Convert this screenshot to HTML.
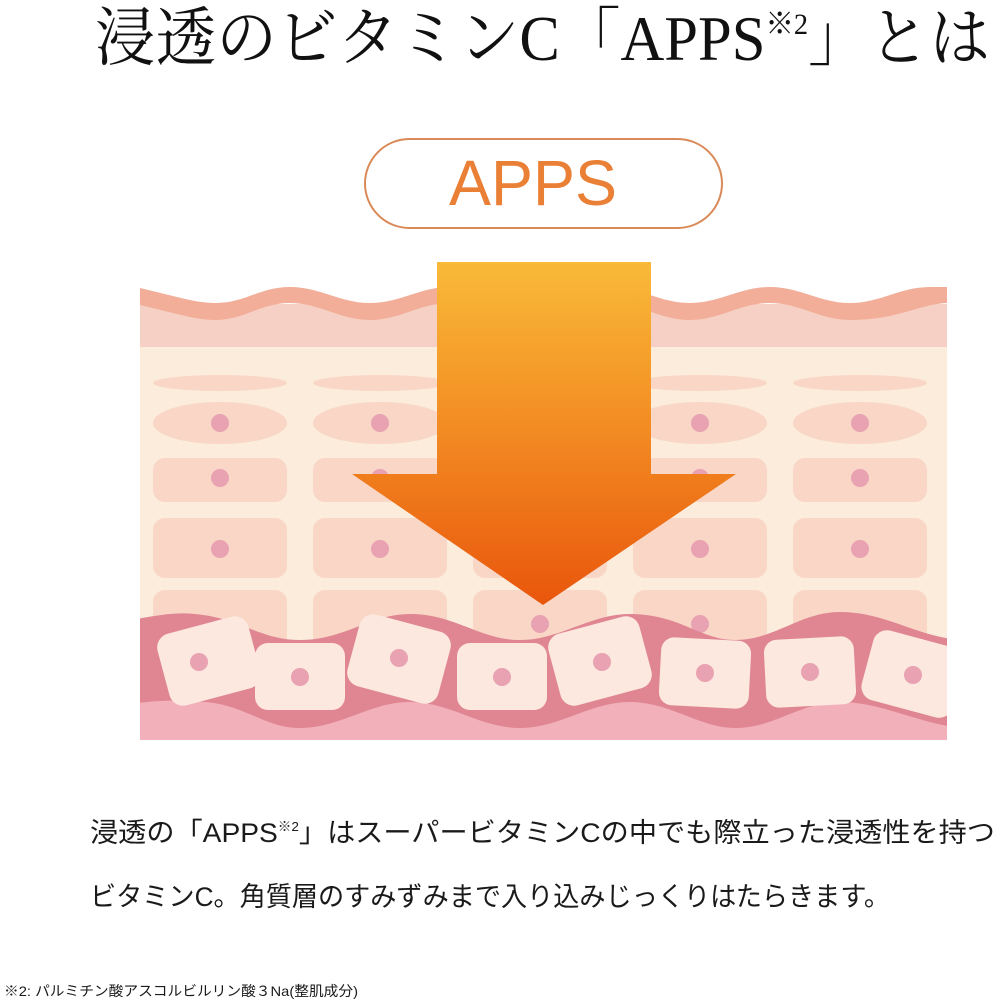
<!DOCTYPE html>
<html><head><meta charset="utf-8"><style>
html,body{margin:0;padding:0;background:#fff;width:1000px;height:1000px;overflow:hidden}
svg{display:block}
</style></head><body>
<svg width="1000" height="1000" viewBox="0 0 1000 1000" xmlns="http://www.w3.org/2000/svg">
<defs>
<linearGradient id="ag" x1="0" y1="0" x2="0" y2="1">
<stop offset="0" stop-color="#f9ba38"/><stop offset="0.5" stop-color="#f28a22"/><stop offset="1" stop-color="#e9560c"/>
</linearGradient>
<clipPath id="dc"><rect x="140" y="250" width="807" height="490"/></clipPath>
</defs>
<text x="95" y="60" font-family="'Liberation Serif','Noto Serif CJK JP',serif" font-size="64" fill="#111" textLength="895" lengthAdjust="spacingAndGlyphs">浸透のビタミンC「APPS<tspan font-size="30" dy="-26">※2</tspan><tspan dy="26">」とは</tspan></text>

<rect x="365" y="139" width="357" height="89" rx="44.5" fill="#fff" stroke="#d98a58" stroke-width="2"/>
<text x="533" y="205" text-anchor="middle" font-family="'Liberation Sans',sans-serif" font-size="64" fill="#ea7f36" textLength="168" lengthAdjust="spacingAndGlyphs">APPS</text>

<g clip-path="url(#dc)">
<rect x="140" y="304" width="807" height="436" fill="#fcecdc"/>
<rect x="140" y="304" width="807" height="43" fill="#f6d0c4"/>
<path d="M140 288 C175 296 195 303 215 303 C245 303 260 287 290 287 C320 287 340 303 370 303 C400 303 420 287 450 287 C480 287 500 303 530 303 C560 303 580 287 610 287 C640 287 660 303 690 303 C720 303 740 287 770 287 C800 287 820 303 850 303 C880 303 900 287 930 287 L950 287 L950 303 C920 303 900 320 850 320 C820 320 800 303 770 303 C740 303 720 320 690 320 C660 320 640 303 610 303 C580 303 560 320 530 320 C500 320 480 303 450 303 C420 303 400 320 370 320 C340 320 320 303 290 303 C260 303 245 320 215 320 C195 320 175 313 140 305 Z" fill="#f2ae98"/>
<g fill="#f9d6c5">
<ellipse cx="220" cy="383" rx="67" ry="8"/><ellipse cx="380" cy="383" rx="67" ry="8"/><ellipse cx="540" cy="383" rx="67" ry="8"/><ellipse cx="700" cy="383" rx="67" ry="8"/><ellipse cx="860" cy="383" rx="67" ry="8"/>
<ellipse cx="220" cy="423" rx="67" ry="21"/><ellipse cx="380" cy="423" rx="67" ry="21"/><ellipse cx="540" cy="423" rx="67" ry="21"/><ellipse cx="700" cy="423" rx="67" ry="21"/><ellipse cx="860" cy="423" rx="67" ry="21"/>
<rect x="153" y="458" width="134" height="44" rx="12"/><rect x="313" y="458" width="134" height="44" rx="12"/><rect x="473" y="458" width="134" height="44" rx="12"/><rect x="633" y="458" width="134" height="44" rx="12"/><rect x="793" y="458" width="134" height="44" rx="12"/>
<rect x="153" y="518" width="134" height="60" rx="12"/><rect x="313" y="518" width="134" height="60" rx="12"/><rect x="473" y="518" width="134" height="60" rx="12"/><rect x="633" y="518" width="134" height="60" rx="12"/><rect x="793" y="518" width="134" height="60" rx="12"/>
<rect x="153" y="590" width="134" height="80" rx="12"/><rect x="313" y="590" width="134" height="80" rx="12"/><rect x="473" y="590" width="134" height="80" rx="12"/><rect x="633" y="590" width="134" height="80" rx="12"/><rect x="793" y="590" width="134" height="80" rx="12"/>
</g>
<g fill="#e8a2b2">
<circle cx="220" cy="423" r="9"/><circle cx="380" cy="423" r="9"/><circle cx="700" cy="423" r="9"/><circle cx="860" cy="423" r="9"/>
<circle cx="220" cy="478" r="9"/><circle cx="380" cy="478" r="9"/><circle cx="700" cy="478" r="9"/><circle cx="860" cy="478" r="9"/>
<circle cx="220" cy="549" r="9"/><circle cx="380" cy="549" r="9"/><circle cx="700" cy="549" r="9"/><circle cx="860" cy="549" r="9"/>
<circle cx="540" cy="624" r="9"/><circle cx="700" cy="624" r="9"/>
</g>
<path d="M130 620 C160 615 175 612 195 614 C240 618 260 640 300 640 C345 640 370 614 410 614 C455 614 480 640 520 640 C560 640 590 614 630 614 C680 614 700 640 735 640 C775 640 800 612 840 612 C885 612 915 636 960 640 L960 740 L130 740 Z" fill="#e08693"/>
<path d="M130 704 C160 700 180 700 205 702 C245 705 265 728 300 728 C340 728 370 702 410 702 C450 702 480 728 520 728 C560 728 590 702 630 702 C670 702 700 728 735 728 C775 728 800 702 840 702 C880 702 915 722 960 728 L960 740 L130 740 Z" fill="#f2b0bb"/>
<g fill="#fce8de">
<rect x="162" y="624" width="94" height="74" rx="14" transform="rotate(-15 209 661)"/>
<rect x="255" y="643" width="90" height="67" rx="13"/>
<rect x="352" y="622" width="94" height="74" rx="14" transform="rotate(15 399 659)"/>
<rect x="457" y="643" width="90" height="67" rx="13"/>
<rect x="553" y="624" width="94" height="74" rx="14" transform="rotate(-15 600 661)"/>
<rect x="660" y="639" width="90" height="68" rx="13" transform="rotate(3 705 673)"/>
<rect x="765" y="638" width="90" height="68" rx="13" transform="rotate(-3 810 672)"/>
<rect x="866" y="638" width="94" height="72" rx="14" transform="rotate(15 913 674)"/>
</g>
<g fill="#e8a2b2">
<circle cx="199" cy="662" r="9"/><circle cx="300" cy="677" r="9"/><circle cx="399" cy="658" r="9"/><circle cx="502" cy="677" r="9"/>
<circle cx="602" cy="662" r="9"/><circle cx="705" cy="673" r="9"/><circle cx="810" cy="672" r="9"/><circle cx="913" cy="675" r="9"/>
</g>
<path d="M437 262 L651 262 L651 474 L736 474 L543 605 L352 474 L437 474 Z" fill="url(#ag)"/>
</g>

<text x="90" y="842" font-family="'Liberation Sans','Noto Sans CJK JP',sans-serif" font-size="27" fill="#1a1a1a" textLength="905" lengthAdjust="spacingAndGlyphs">浸透の「APPS<tspan font-size="13" dy="-11">※2</tspan><tspan dy="11">」はスーパービタミンCの中でも際立った浸透性を持つ</tspan></text>
<text x="90" y="906" font-family="'Liberation Sans','Noto Sans CJK JP',sans-serif" font-size="27" fill="#1a1a1a" textLength="800" lengthAdjust="spacingAndGlyphs">ビタミンC。角質層のすみずみまで入り込みじっくりはたらきます。</text>
<text x="4" y="996" font-family="'Liberation Sans','Noto Sans CJK JP',sans-serif" font-size="14" fill="#1a1a1a" textLength="354" lengthAdjust="spacingAndGlyphs">※2: パルミチン酸アスコルビルリン酸３Na(整肌成分)</text>
</svg>
</body></html>
